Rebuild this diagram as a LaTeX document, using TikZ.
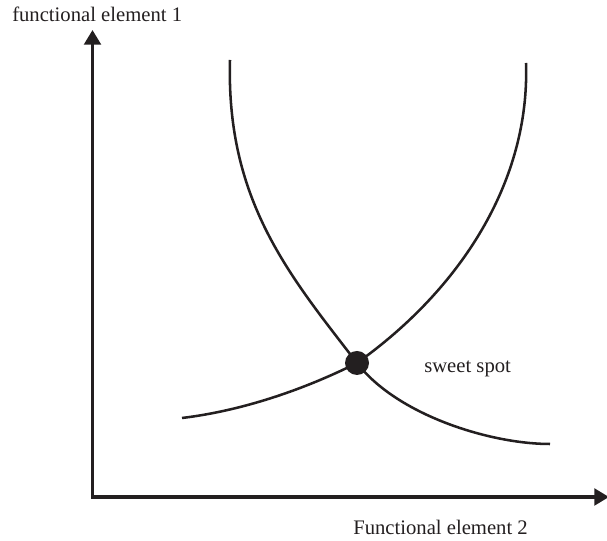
\documentclass[tikz,border=0pt]{standalone}
\usepackage{fontspec}
\setmainfont{Liberation Serif}
\usetikzlibrary{arrows.meta}
\definecolor{ink}{HTML}{231F20}
\begin{document}
\begin{tikzpicture}[x=0.75pt, y=0.75pt,
    axis/.style={draw=ink, line width=2.4pt, line join=miter, {Triangle[length=11pt,width=12.5pt]}-{Triangle[length=11pt,width=12.5pt]}},
    curve/.style={draw=ink, line width=1.9pt},
    lbl/.style={font=\fontsize{15.5}{18}\selectfont, text=ink, inner sep=0pt}]
    \useasboundingbox (0,0) rectangle (607,541);

    % Define nodes
    \coordinate (origin) at (92.5,44);
    \coordinate (ytip) at (92.5,511);
    \coordinate (xtip) at (609,44);
    \node[circle, fill=ink, minimum size=18pt, inner sep=0pt] (spot) at (357,178) {};
    \coordinate (a1) at (230,481);
    \coordinate (a2) at (550,97);
    \coordinate (b1) at (526,478);
    \coordinate (b2) at (182,123);

    \node[lbl, anchor=base west] (ylabel) at (12,519) {functional element 1};
    \node[lbl, anchor=base west] (xlabel) at (353,6) {Functional element 2};
    \node[lbl, anchor=base west] (spotlabel) at (424,168) {sweet spot};

    % Draw axes
    \draw[axis] (ytip) -- (origin) -- (xtip);

    % Draw curves
    \draw[curve] (a1) .. controls (226,340) and (290,265) .. (spot.center)
                      .. controls (397,126) and (490,97) .. (a2);
    \draw[curve] (b1) .. controls (530,360) and (461,252) .. (spot.center)
                      .. controls (301,150) and (240,130) .. (b2);
\end{tikzpicture}
\end{document}
